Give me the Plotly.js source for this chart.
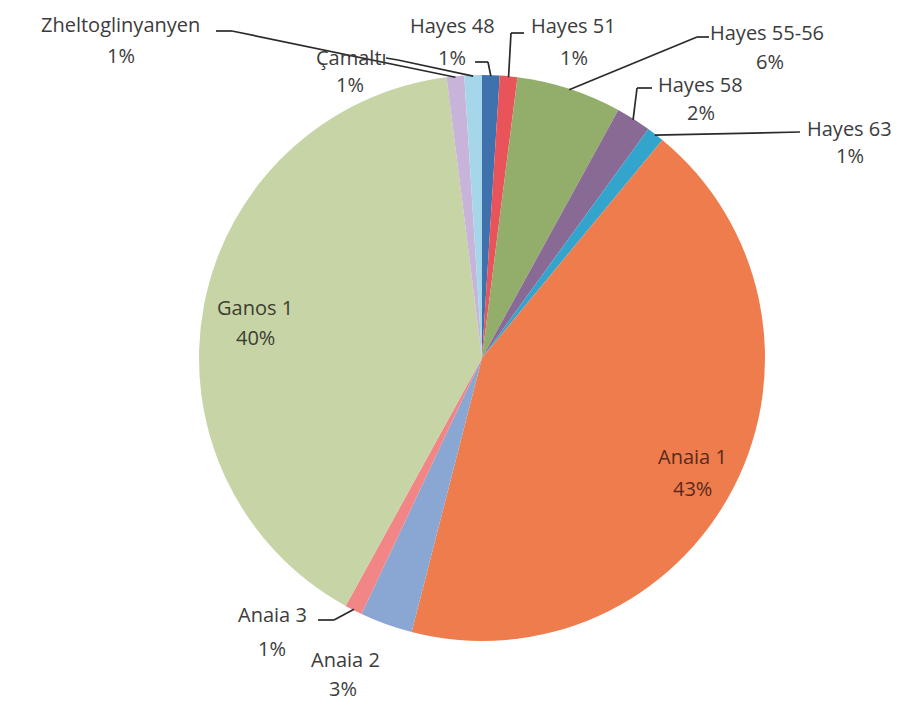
<!DOCTYPE html>
<html>
<head>
<meta charset="utf-8">
<script src="https://cdn.plot.ly/plotly-3.0.1.min.js"></script>
<style>html,body{margin:0;padding:0;background:#fff;}#chart{width:921px;height:716px;}</style>
</head>
<body>
<div id="chart"></div>
<script>
// ---- data ----
const labels = ['Hayes 48','Hayes 51','Hayes 55-56','Hayes 58','Hayes 63','Anaia 1','Anaia 2','Anaia 3','Ganos 1','Zheltoglinyanyen','Çamaltı'];
const values = [1, 1, 6, 2, 1, 43, 3, 1, 40, 1, 1];
const colors = ['#3f72ad','#e8545a','#93ae6a','#896a95','#33a4cc','#ee7c4c','#8aa6d2','#f28585','#c6d4a6','#c8b4d8','#a5d6ea'];

// ---- layout geometry (pixels) ----
const W = 921, H = 716;
const cx = 482, cy = 358, R = 283;
const fx = x => x / W;
const fy = y => 1 - y / H;

// label placement: name centre, percent centre, leader elbow points, text colour
const place = {
  'Zheltoglinyanyen': {n:[120,25], p:[121,55], lead:[[216,31],[232,31]], c:'#3c3c3c'},
  'Çamaltı':          {n:[351,57], p:[350,85], lead:[[386,58],[398,60]], c:'#3c3c3c'},
  'Hayes 48':         {n:[452,26], p:[452,57], lead:[[475,62],[488,62]], c:'#3c3c3c'},
  'Hayes 51':         {n:[573,26], p:[574,57], lead:[[524,33],[511,33]], c:'#3c3c3c'},
  'Hayes 55-56':      {n:[767,33], p:[770,62], lead:[[709,37],[697,37]], c:'#3c3c3c'},
  'Hayes 58':         {n:[700,85], p:[701,113], lead:[[652,88],[637,88]], c:'#3c3c3c'},
  'Hayes 63':         {n:[849,128], p:[850,155], lead:[[800,132]], c:'#3c3c3c'},
  'Anaia 1':          {n:[692,456], p:[692,489], lead:null, c:'#5a2a1c'},
  'Anaia 2':          {n:[345,659], p:[343,688], lead:null, c:'#3c3c3c'},
  'Anaia 3':          {n:[272,614], p:[272,648], lead:[[318,620],[334,620]], c:'#3c3c3c'},
  'Ganos 1':          {n:[255,307], p:[255,337], lead:null, c:'#3c4030'}
};

const total = values.reduce((a,b)=>a+b,0);
const annotations = [];
const shapes = [];
let cum = 0;
labels.forEach((lab, i) => {
  const v = values[i];
  const mid = (cum + v/2) / total * 2 * Math.PI; // clockwise from 12 o'clock
  cum += v;
  const pl = place[lab];
  const pct = Math.round(v / total * 100) + '%';
  const font = {family:'Open Sans, sans-serif', size:20, color:pl.c};
  annotations.push({xref:'paper', yref:'paper', x:fx(pl.n[0]), y:fy(pl.n[1]), text:lab, showarrow:false, xanchor:'center', yanchor:'middle', font:font});
  annotations.push({xref:'paper', yref:'paper', x:fx(pl.p[0]), y:fy(pl.p[1]), text:pct, showarrow:false, xanchor:'center', yanchor:'middle', font:font});
  if (pl.lead) {
    const end = [cx + (R-1) * Math.sin(mid), cy - (R-1) * Math.cos(mid)];
    const pts = pl.lead.concat([end]);
    for (let k = 0; k < pts.length - 1; k++) {
      shapes.push({type:'line', xref:'paper', yref:'paper',
        x0:fx(pts[k][0]), y0:fy(pts[k][1]), x1:fx(pts[k+1][0]), y1:fy(pts[k+1][1]),
        line:{color:'#2a2a2a', width:1.7}});
    }
  }
});

const trace = {
  type:'pie',
  labels: labels,
  values: values,
  sort: false,
  direction: 'clockwise',
  rotation: 0,
  marker: {colors: colors, line:{width:0}},
  textinfo: 'none',
  hoverinfo: 'label+percent',
  domain: {x:[fx(cx-R), fx(cx+R)], y:[fy(cy+R), fy(cy-R)]}
};

const layout = {
  width: W, height: H,
  margin: {l:0, r:0, t:0, b:0},
  paper_bgcolor: '#ffffff',
  showlegend: false,
  annotations: annotations,
  shapes: shapes
};

Plotly.newPlot('chart', [trace], layout, {displayModeBar:false, staticPlot:true});
</script>
</body>
</html>
